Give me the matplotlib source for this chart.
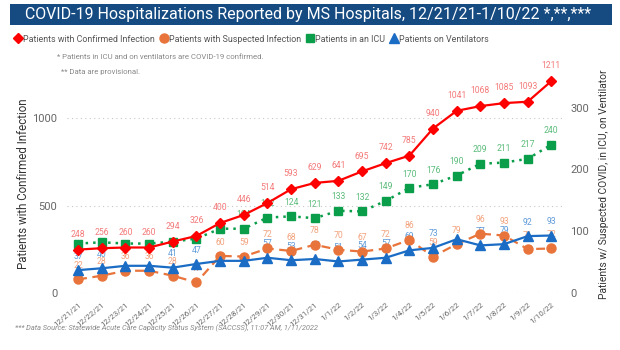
import matplotlib
matplotlib.use("Agg")
import matplotlib.pyplot as plt
from matplotlib.patches import Rectangle
from matplotlib.lines import Line2D

dates = ["12/21/21", "12/22/21", "12/23/21", "12/24/21", "12/25/21", "12/26/21", "12/27/21",
         "12/28/21", "12/29/21", "12/30/21", "12/31/21", "1/1/22", "1/2/22", "1/3/22",
         "1/4/22", "1/5/22", "1/6/22", "1/7/22", "1/8/22", "1/9/22", "1/10/22"]
confirmed = [248, 256, 260, 260, 294, 326, 400, 446, 514, 593, 629, 641, 695, 742, 785, 940,
             1041, 1068, 1085, 1093, 1211]
suspected = [22, 28, 36, 36, 28, 17, 60, 59, 72, 68, 78, 70, 67, 72, 86, 59, 79, 96, 93, 71, 72]
icu = [80, 82, 80, 80, 83, 88, 104, 104, 122, 124, 121, 133, 132, 149, 170, 176, 190, 209,
       211, 217, 240]
vent = [37, 40, 44, 44, 41, 47, 52, 52, 57, 53, 55, 51, 54, 57, 69, 73, 87, 77, 79, 92, 93]

# which data labels are shown (Power BI hides some overlapping labels)
icu_show = [False] * 7 + [True] * 14
vent_show = [True, True, False, False, True, True, False, False, True, True, True, True, True,
             True, True, True, False, True, True, True, True]

plt.rcParams['font.family'] = ['Roboto', 'DejaVu Sans']

C_RED = '#ff0000'
C_ORG = '#e8743b'
C_GRN = '#0b9e4a'
C_BLU = '#1a6cc4'
L_RED = '#f47a7a'
L_ORG = '#f2a37e'
L_GRN = '#5cbc7c'
L_BLU = '#5f9ad8'

fig = plt.figure(figsize=(6.2, 3.5), dpi=100)
W, H = 620, 350

def fx(px):
    return px / W

def fy(py):
    return 1 - py / H

# Title banner
fig.patches.append(Rectangle((fx(10), fy(25)), fx(602), 21 / H, transform=fig.transFigure,
                             facecolor='#164b82', edgecolor='none', zorder=0))
fig.text(fx(308), fy(14.5), "COVID-19 Hospitalizations Reported by MS Hospitals, 12/21/21-1/10/22 *,**,***",
         color='white', fontsize=11.5, ha='center', va='center')

AX_L, AX_R = 67, 562
ax = fig.add_axes([fx(AX_L), fy(293), fx(AX_R - AX_L), (293 - 65.5) / H])
ax2 = ax.twinx()
x = list(range(len(dates)))

ax.set_xlim(-0.47, 20.45)
ax.set_ylim(0, 1300)
ax2.set_ylim(0, 368)

for a in (ax, ax2):
    for s in a.spines.values():
        s.set_visible(False)
    a.tick_params(length=0)

ax.set_yticks([0, 500, 1000])
ax.yaxis.grid(True, linestyle=(0, (1, 3)), color='#c8c8c8', linewidth=0.8)
ax.set_axisbelow(True)
ax.tick_params(axis='y', labelsize=8, labelcolor='#666666', pad=7)
ax2.set_yticks([0, 100, 200, 300])
ax2.tick_params(axis='y', labelsize=8, labelcolor='#666666', pad=6)

ax.set_xticks(x)
ax.set_xticklabels(dates, rotation=40, ha='right', rotation_mode='anchor', fontsize=5.8,
                   color='#666666')
ax.tick_params(axis='x', pad=6)

ax.set_ylabel("Patients with Confirmed Infection", fontsize=8.3, color='#333333')
ax.yaxis.set_label_coords((24 - AX_L) / (AX_R - AX_L), 0.48)
ax.yaxis.label.set_va('center')
ax2.set_ylabel("Patients w/ Suspected COVID, in ICU, on Ventilator", fontsize=7.4,
               color='#333333')
ax2.yaxis.set_label_coords((604 - AX_L) / (AX_R - AX_L), 0.48)
ax2.yaxis.label.set_va('center')

# Right-axis series
ax2.plot(x, suspected, color=C_ORG, linestyle=(0, (4, 2.5)), linewidth=1.6, marker='o',
         markersize=6.5, zorder=3)
ax2.plot(x, vent, color=C_BLU, linestyle='-', linewidth=1.6, marker='^', markersize=6.5,
         zorder=4)
ax2.plot(x, icu, color=C_GRN, linestyle=(0, (1, 2)), linewidth=1.8, marker='s', markersize=5.5,
         zorder=3)

# Data labels (right axis)
for i in x:
    ax2.annotate(str(suspected[i]), (i, suspected[i]), xytext=(0, 10), textcoords='offset points',
                 ha='center', va='center', fontsize=6.2, color=L_ORG, zorder=2)
    if vent_show[i]:
        ax2.annotate(str(vent[i]), (i, vent[i]), xytext=(0, 10), textcoords='offset points',
                     ha='center', va='center', fontsize=6.2, color=L_BLU, zorder=2)
    if icu_show[i]:
        ax2.annotate(str(icu[i]), (i, icu[i]), xytext=(0, 10), textcoords='offset points',
                     ha='center', va='center', fontsize=6.2, color=L_GRN, zorder=2)

# Confirmed on left axis, drawn on top
ax.set_zorder(ax2.get_zorder() + 1)
ax.patch.set_visible(False)
ax.plot(x, confirmed, color=C_RED, linestyle='-', linewidth=1.6, marker='D', markersize=5.5,
        zorder=5)
for i in x:
    ax.annotate(str(confirmed[i]), (i, confirmed[i]), xytext=(0, 11), textcoords='offset points',
                ha='center', va='center', fontsize=6.2, color=L_RED, zorder=2)

# Legend row
handles = [
    Line2D([], [], color=C_RED, marker='D', linestyle='none', markersize=5),
    Line2D([], [], color=C_ORG, marker='o', linestyle='none', markersize=6.5),
    Line2D([], [], color=C_GRN, marker='s', linestyle='none', markersize=6),
    Line2D([], [], color=C_BLU, marker='^', linestyle='none', markersize=6.5),
]
labels = ["Patients with Confirmed Infection", "Patients with Suspected Infection",
          "Patients in an ICU", "Patients on Ventilators"]
fig.legend(handles, labels, loc='center left', bbox_to_anchor=(fx(12), fy(39)), ncol=4,
           frameon=False, fontsize=6.4, labelcolor='#555555', handletextpad=-0.1,
           columnspacing=0.4, handlelength=1.3, borderaxespad=0, borderpad=0)

fig.text(fx(57), fy(57), "* Patients in ICU and on ventilators are COVID-19 confirmed.",
         fontsize=5.6, color='#888888', va='center')
fig.text(fx(61), fy(72), "** Data are provisional.", fontsize=5.6, color='#888888', va='center')
fig.text(fx(15), fy(328), "*** Data Source: Statewide Acute Care Capacity Status System (SACCSS), 11:07 AM, 1/11/2022",
         fontsize=5.3, color='#888888', va='center', style='italic')

fig.savefig("out.png", dpi=100)
